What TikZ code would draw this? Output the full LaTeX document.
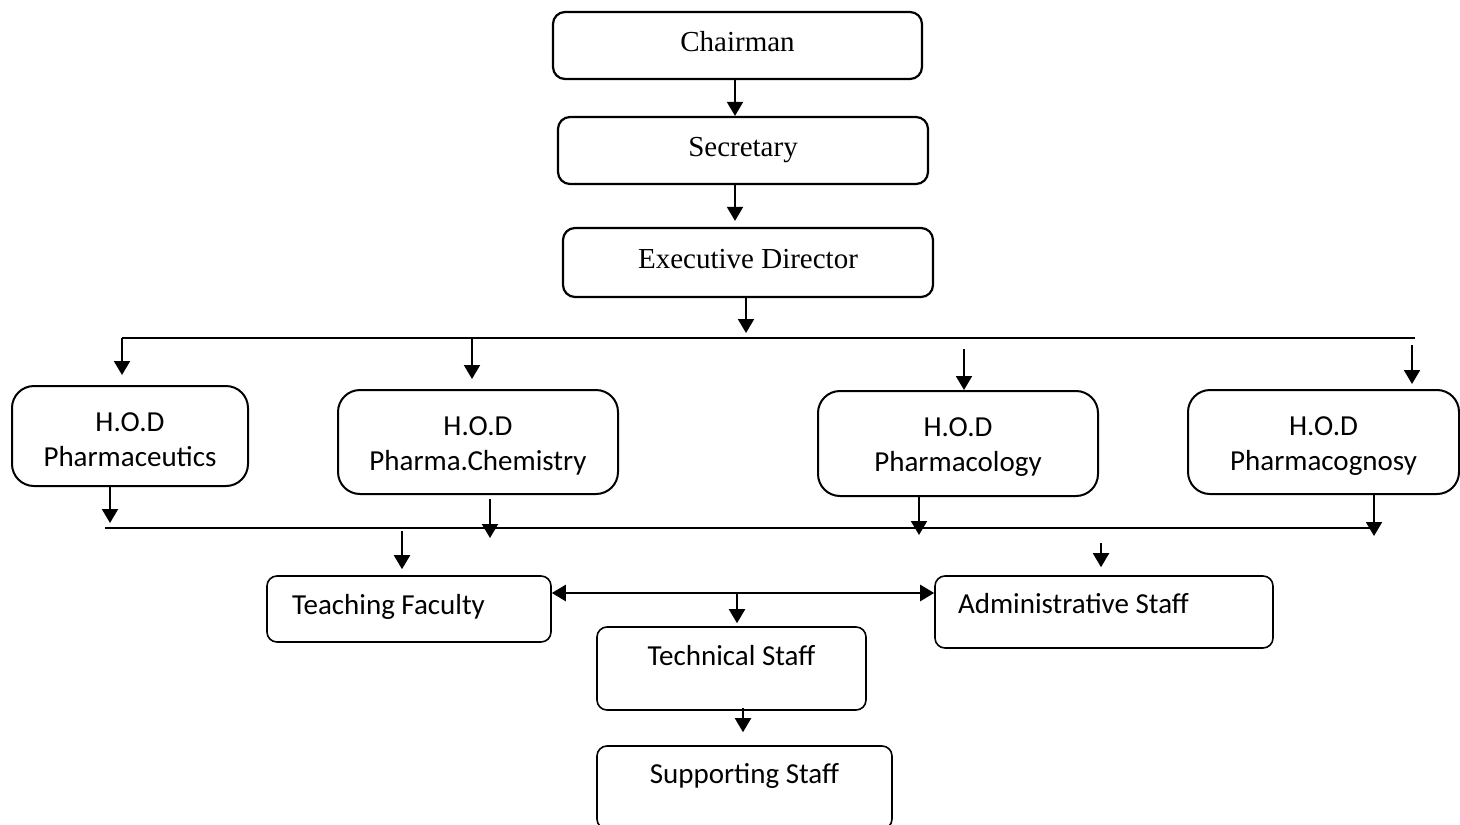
\documentclass[tikz,border=0pt]{standalone}
\usepackage{fontspec}
\setmainfont{Carlito}
\newfontfamily\timesfont{Liberation Serif}
\usetikzlibrary{arrows.meta}

\begin{document}
\begin{tikzpicture}[x=0.5pt,y=-0.5pt,
    topbox/.style={draw,line width=1.1pt,rounded corners=6pt,inner sep=0pt,
        font=\timesfont\fontsize{14.5}{17.5}\selectfont,text height=1.5ex,text depth=.25ex},
    hodbox/.style={draw,line width=1pt,rounded corners=11pt,inner sep=0pt,align=center,
        font=\fontsize{14.5}{17.5}\selectfont,text height=30.5pt},
    staffbox/.style={draw,line width=0.8pt,rounded corners=5pt,inner sep=0pt,
        font=\fontsize{14.5}{17.5}\selectfont,text height=1.5ex,text depth=.25ex},
    arr/.style={line width=1pt,-{Triangle[length=7pt,width=8pt]}},
    dblarr/.style={line width=1.2pt,{Triangle[length=7pt,width=8pt]}-{Triangle[length=7pt,width=8pt]}},
    bus/.style={line width=0.8pt}]

\useasboundingbox (0,0) rectangle (1460,824);

\node[topbox,minimum width=184.5pt,minimum height=33.5pt] (chair) at (737.5,45.5) {Chairman};
\node[topbox,minimum width=185pt,minimum height=33.5pt] (secr) at (743,150.5) {Secretary};
\node[topbox,minimum width=185pt,minimum height=34.5pt] (exec) at (748,262.5) {Executive Director};

\node[hodbox,minimum width=118pt,minimum height=50pt] (hodA) at (130,436) {H.O.D\\Pharmaceutics};
\node[hodbox,minimum width=140pt,minimum height=52pt] (hodB) at (478,442) {H.O.D\\Pharma.Chemistry};
\node[hodbox,minimum width=140pt,minimum height=52.5pt] (hodC) at (958,443.5) {H.O.D\\Pharmacology};
\node[hodbox,minimum width=135.5pt,minimum height=52pt] (hodD) at (1323.5,442) {H.O.D\\Pharmacognosy};

\node[staffbox,inner xsep=12.5pt,minimum height=33pt] (teach) at (409,609) {\makebox[117pt][l]{Teaching Faculty}};
\node[staffbox,inner xsep=11.5pt,minimum height=36pt,text depth=5.9pt] (admin) at (1104,612) {\makebox[146pt][l]{Administrative Staff}};
\node[staffbox,minimum width=134.5pt,minimum height=41.5pt,text depth=10pt] (tech) at (731.5,668.5) {Technical Staff};
\node[staffbox,minimum width=147.5pt,minimum height=41.5pt,text depth=11.3pt] (supp) at (744.5,787.5) {Supporting Staff};

\coordinate (spine) at (735,0);
\draw[arr] (spine |- chair.south) -- (spine |- secr.north);
\draw[arr,shorten >=3pt] (spine |- secr.south) -- (spine |- exec.north);

\coordinate (busAl) at (122,338);
\coordinate (busAr) at (1415,338);
\draw[bus] (busAl) -- (busAr);
\draw[arr,shorten >=2.5pt] ([xshift=-1pt]exec.south) -- ([xshift=-1pt]exec.south |- busAl);

\foreach \xx/\nn/\ss/\ee in {122/hodA/0/5,472/hodB/0/5,964/hodC/5.5/0,1412/hodD/3.5/2.5}
{
    \coordinate (d\nn) at (\xx,338);
    \draw[arr,shorten <=\ss pt,shorten >=\ee pt] (d\nn) -- (d\nn |- \nn.north);
}

\coordinate (busBl) at (105,528);
\coordinate (busBr) at (1373,528);
\draw[bus,line width=1pt] (busBl) -- (busBr);

\foreach \xx/\nn/\ss/\ee in {110/hodA/0/2.5,490/hodB/2/-5,919/hodC/0/-3.5,1374/hodD/0/-4}
{
    \coordinate (u\nn) at (\xx,528);
    \draw[arr,shorten <=\ss pt,shorten >=\ee pt] (u\nn |- \nn.south) -- (u\nn);
}

\coordinate (tT) at (402,528);
\coordinate (tA) at (1101,528);
\draw[arr,shorten <=1.5pt,shorten >=3pt] (tT) -- (tT |- teach.north);
\draw[arr,shorten <=7.5pt,shorten >=4pt] (tA) -- (tA |- admin.north);

\coordinate (mid) at (737,593);
\draw[dblarr] (mid -| teach.east) -- (mid -| admin.west);
\draw[arr,shorten >=1.5pt] (mid) -- (mid |- tech.north);

\coordinate (tS) at (743,0);
\draw[arr,shorten <=-1.5pt,shorten >=6.5pt] (tS |- tech.south) -- (tS |- supp.north);

\end{tikzpicture}
\end{document}
